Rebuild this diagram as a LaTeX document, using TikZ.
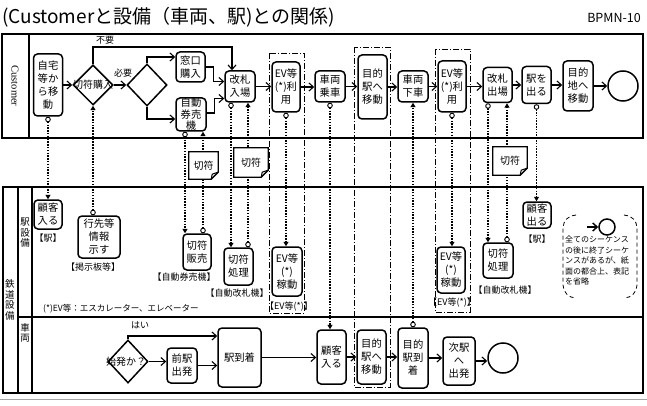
\documentclass[tikz,border=0pt]{standalone}
\usepackage{fontspec}
\setmainfont{Noto Sans CJK JP}
\newfontfamily\serifcust{Liberation Serif}
\usetikzlibrary{arrows.meta,shapes.geometric,calc}
\newcommand\fsz[2]{\fontsize{#1}{#2}\selectfont}
\tikzset{
  task/.style={draw, line width=1.5pt, rounded corners=4pt, fill=white, align=center, inner sep=0pt, font=\fsz{10.3}{13}},
  gw/.style={draw, diamond, line width=1.5pt, inner sep=0pt, fill=white, minimum width=40pt, minimum height=40pt},
  endev/.style={draw, circle, line width=1.5pt, minimum size=30pt, inner sep=0pt, fill=white},
  seq/.style={line width=1.1pt, -{Straight Barb[length=4.5pt,width=8pt]}},
  msg/.style={line width=1.6pt, dash pattern=on 1.5pt off 1.3pt, {Circle[length=5.5pt,line width=0.9pt,fill=white]}-{Triangle[length=4.5pt,width=5pt]}},
  grp/.style={line width=0.8pt, dash pattern=on 6pt off 2pt on 1pt off 2pt},
  lbl/.style={font=\fsz{9}{11}, inner sep=0pt},
  poolline/.style={line width=1.6pt},
  ticket/.style={fill=white, inner sep=0pt, font=\fsz{10}{12}},
  vlabel/.style={align=center, inner sep=0pt, font=\fsz{9.5}{10.5}},
}
\begin{document}
\begin{tikzpicture}[x=1pt,y=-1pt]
\useasboundingbox (0,0) rectangle (647,406);
\fill[white] (0,0) rectangle (647,406);

% title
\node[anchor=west, inner sep=0pt, font=\fsz{19}{22}] (title) at (2,17) {(Customerと設備（車両、駅)との関係)};
\node[anchor=east, inner sep=0pt, font=\fsz{12.5}{14}] (bpmn) at (641,18) {BPMN-10};

% pools
\draw[poolline] (2,34) rectangle (643,138);
\draw[poolline] (29,34) -- (29,138);
\node[rotate=-90, inner sep=0pt, font=\serifcust\fsz{10.5}{12}] (lcust) at (15,86) {Customer};

\draw[poolline] (3,187) rectangle (643,393);
\draw[poolline] (18,187) -- (18,393);
\draw[poolline] (32,187) -- (32,393);
\draw[poolline] (18,317) -- (643,317);
\node[vlabel] (lrail) at (10,300) {鉄\\道\\設\\備};
\node[vlabel] (lstat) at (25,233) {駅\\設\\備};
\node[vlabel] (lcar) at (25,333) {車\\両};
\draw[line width=1pt, gray!70] (0,399) -- (647,399);

% groups
\draw[grp] (269,53) rectangle (304,313);
\draw[grp] (354,47) rectangle (390,387);
\draw[grp] (435,49) rectangle (470,312);

% customer lane
\node[task, minimum width=29pt, minimum height=62pt] (home) at (48,85) {自宅\\等か\\ら移\\動};
\node[gw] (gw1) at (93,85) {};
\node[inner sep=0pt, font=\fsz{10}{12}] (gw1t) at (93,85) {切符購入};
\node[gw, minimum height=42pt] (gw2) at (147,85) {};
\node[task, minimum width=29pt, minimum height=30pt] (window) at (190.5,67) {窓口\\購入};
\node[task, minimum width=30pt, minimum height=33pt, font=\fsz{10.3}{11.5}] (tvm) at (191,114.5) {自動\\券売\\機};
\node[task, minimum width=30pt, minimum height=31pt] (gatein) at (240,86.5) {改札\\入場};
\node[task, minimum width=28pt, minimum height=50pt] (ev1) at (286,87) {EV等\\(*)利\\用};
\node[task, minimum width=30pt, minimum height=31pt] (board) at (330,86.5) {車両\\乗車};
\node[task, minimum width=29pt, minimum height=64pt] (move1) at (372.5,87) {目的\\駅へ\\移動};
\node[task, minimum width=30pt, minimum height=31pt] (alight) at (413,86.5) {車両\\下車};
\node[task, minimum width=28pt, minimum height=51pt] (ev2) at (452,86.5) {EV等\\(*)利\\用};
\node[task, minimum width=29pt, minimum height=35pt] (gateout) at (497.5,85) {改札\\出場};
\node[task, minimum width=29pt, minimum height=37pt] (exitst) at (536.5,85) {駅を\\出る};
\node[task, minimum width=30pt, minimum height=50pt] (dest) at (578,86) {目的\\地へ\\移動};
\node[endev] (end1) at (623,86) {};

\node[lbl] (tno) at (105,40) {不要};
\node[lbl] (tyes) at (123,73) {必要};

% station lane
\node[task, minimum width=28pt, minimum height=29pt] (custin) at (48,214.5) {顧客\\入る};
\node[lbl] (lb1) at (48,238) {【駅】};
\node[task, minimum width=42pt, minimum height=42pt] (info) at (99,237) {行先等\\情報\\示す};
\node[lbl] (lb2) at (93,267) {【掲示板等】};
\node[task, minimum width=28pt, minimum height=36pt] (sell) at (197,252) {切符\\販売};
\node[lbl] (lb3) at (184,277) {【自動券売機】};
\node[task, minimum width=29pt, minimum height=37pt] (proc1) at (238.5,266.5) {切符\\処理};
\node[lbl] (lb4) at (237,293) {【自動改札機】};
\node[task, minimum width=30pt, minimum height=49pt] (evop1) at (287,271.5) {EV等\\(*)\\稼動};
\node[lbl] (lb5) at (289,307) {【EV等(*)】};
\node[task, minimum width=28pt, minimum height=46pt] (evop2) at (451,270) {EV等\\(*)\\稼動};
\node[lbl] (lb6) at (452,303) {【EV等(*)】};
\node[task, minimum width=30pt, minimum height=35pt] (proc2) at (498,260.5) {切符\\処理};
\node[lbl] (lb7) at (505,290) {【自動改札機】};
\node[task, minimum width=28pt, minimum height=26pt] (exitcust) at (537,215) {顧客\\出る};
\node[lbl] (lb8) at (537,239) {【駅】};
\node[anchor=west, inner sep=0pt, font=\fsz{8.5}{10}] (evnote) at (43,309) {(*)EV等：エスカレーター、エレベーター};

% vehicle lane
\node[gw, minimum height=43pt] (gw3) at (128,361.5) {};
\node[inner sep=0pt, font=\fsz{10}{12}] (gw3t) at (126,361.5) {始発か？};
\node[lbl] (tyes2) at (140,325) {はい};
\node[task, minimum width=30pt, minimum height=35pt] (prevdep) at (182,365.5) {前駅\\出発};
\node[task, minimum width=43pt, minimum height=59pt] (arrst) at (239.5,357.5) {駅到着};
\node[task, minimum width=29pt, minimum height=54pt] (custin2) at (331.5,357) {顧客\\入る};
\node[task, minimum width=29pt, minimum height=54pt] (move2) at (371.5,357) {目的\\駅へ\\移動};
\node[task, minimum width=30pt, minimum height=60pt] (arrive) at (413,358) {目的\\駅到\\着};
\node[task, minimum width=32pt, minimum height=48pt] (nextdep) at (459,361) {次駅\\へ\\出発};
\node[endev] (end2) at (503,358) {};

% sequence flows (customer)
\coordinate (gtop) at (232,47);
\draw[seq] (home.east) -- (home.east -| gw1.west);
\draw[seq] (gw1.east) -- (gw2.west);
\draw[seq] (gw1.north) |- (gtop) -- (gtop |- gatein.north);
\draw[seq] (gw2.north) |- ($(window.west)+(0,-10)$);
\draw[seq] (gw2.south) |- ($(tvm.west)+(0,4.5)$);
\draw[seq] (window.east) -- ++(8,0) |- ($(gatein.west)+(0,-5)$);
\draw[seq] ($(tvm.east)+(0,-1.5)$) -- ++(8,0) |- ($(gatein.west)+(0,12)$);
\draw[seq] (gatein.east) -- (gatein.east -| ev1.west);
\draw[seq] (ev1.east) -- (ev1.east -| board.west);
\draw[seq] (board.east) -- (board.east -| move1.west);
\draw[seq] (move1.east) -- (move1.east -| alight.west);
\draw[seq] (alight.east) -- (alight.east -| ev2.west);
\draw[seq] (ev2.east) -- (ev2.east -| gateout.west);
\draw[seq] (gateout.east) -- (gateout.east -| exitst.west);
\draw[seq] (exitst.east) -- (exitst.east -| dest.west);
\draw[seq] (dest.east) -- (dest.east -| end1.west);

% sequence flows (vehicle)
\draw[seq] (gw3.north) |- ($(arrst.west)+(0,-21.5)$);
\draw[seq] (gw3.east) -- (gw3.east -| prevdep.west);
\draw[seq] (prevdep.east) -- (prevdep.east -| arrst.west);
\draw[seq] (arrst.east) -- (arrst.east -| custin2.west);
\draw[seq] (custin2.east) -- (custin2.east -| move2.west);
\draw[seq] (move2.east) -- (move2.east -| arrive.west);
\draw[seq] (arrive.east) -- (arrive.east -| nextdep.west);
\draw[seq] (nextdep.east) -- (nextdep.east -| end2.west);

% message flows
\coordinate (m3) at ($(tvm.south)+(-6,0)$);
\coordinate (m4) at ($(tvm.south)+(12,0)$);
\coordinate (m5) at ($(gatein.south)+(-9,0)$);
\coordinate (m6) at ($(gatein.south)+(8,0)$);
\coordinate (m11) at ($(gateout.south)+(-9.5,0)$);
\coordinate (m12) at ($(gateout.south)+(9.5,0)$);
\draw[msg] (home.south) -- (home.south |- custin.north);
\draw[msg] (gw1.south |- info.north) -- (gw1.south);
\draw[msg] (m3) -- (m3 |- sell.north);
\draw[msg] (m4 |- sell.north) -- (m4);
\draw[msg] (m5) -- (m5 |- proc1.north);
\draw[msg] (m6 |- proc1.north) -- (m6);
\draw[msg] (ev1.south) -- (ev1.south |- evop1.north);
\draw[msg] (board.south) -- (board.south |- custin2.north);
\draw[msg] (arrive.north) -- (arrive.north |- alight.south);
\draw[msg] (ev2.south) -- (ev2.south |- evop2.north);
\draw[msg] (m11) -- (m11 |- proc2.north);
\draw[msg] (m12 |- proc2.north) -- (m12);
\draw[msg] (exitst.south) -- (exitst.south |- exitcust.north);

% tickets (data objects)
\foreach \nm/\cx/\cy/\w/\h in {tk1/203.5/165.5/29/27, tk2/251/162.5/34/29, tk3/510/161/34/28}{
  \node[ticket, minimum width=\w pt, minimum height=\h pt] (\nm) at (\cx,\cy) {切符};
  \draw[line width=1.3pt] (\nm.north west) -- (\nm.north east) -- ($(\nm.south east)+(0,-7)$) -- ($(\nm.south east)+(-7,0)$) -- (\nm.south west) -- cycle;
  \draw[line width=1pt] ($(\nm.south east)+(0,-7)$) -- ($(\nm.south east)+(-6,-5)$) -- ($(\nm.south east)+(-7,0)$);
}

% annotation
\draw[line width=0.8pt, dash pattern=on 4pt off 3pt] (576,215) to[out=180,in=90] (563,228) -- (563,285) to[out=-90,in=180] (576,298);
\draw[line width=0.8pt, dash pattern=on 4pt off 3pt] (624,215) to[out=0,in=90] (637,228) -- (637,285) to[out=-90,in=0] (624,298);
\node[draw, circle, line width=1.5pt, minimum size=16pt, inner sep=0pt] (annend) at (607,227) {};
\coordinate (annst) at (587,227);
\draw[seq, line width=1.4pt] (annst) -- (annend.west);
\node[anchor=north west, align=left, inner sep=0pt, font=\fsz{8}{10.5}] (anntext) at (565,236) {全てのシーケンス\\の後に終了シーケ\\ンスがあるが、紙\\面の都合上、表記\\を省略};
\end{tikzpicture}
\end{document}
